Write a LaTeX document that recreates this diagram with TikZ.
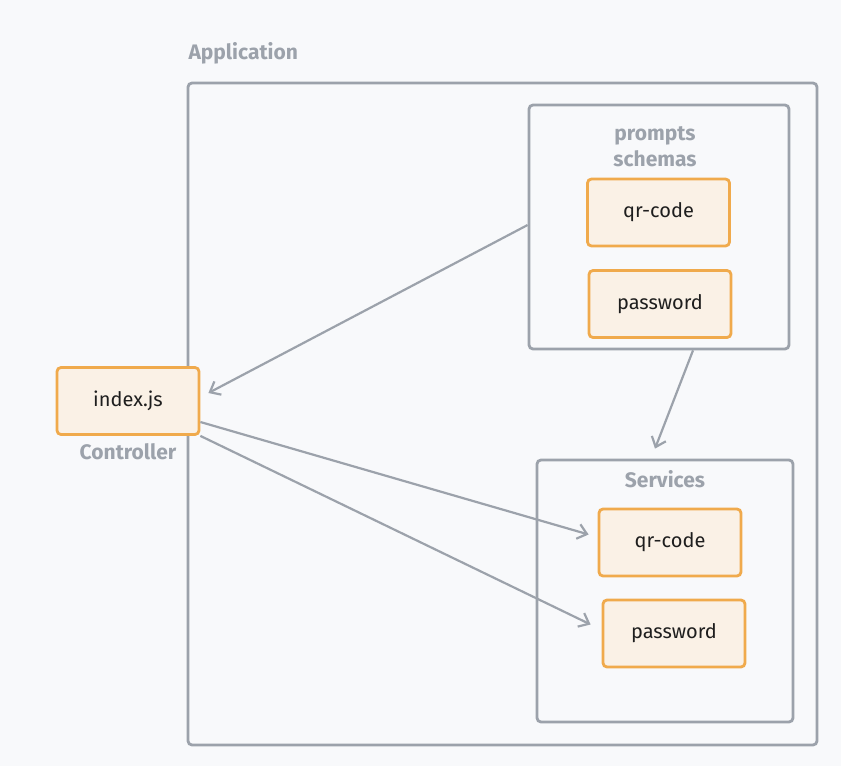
\documentclass[tikz,border=0pt]{standalone}
\usepackage{fontspec}
\setmainfont{Fira Sans}
\usepackage{tikz}
\usetikzlibrary{positioning,arrows.meta,calc}

\definecolor{bgcol}{HTML}{F8F9FB}
\definecolor{greyline}{HTML}{9CA2AB}
\definecolor{orangeline}{HTML}{F0AA4C}
\definecolor{orangefill}{HTML}{FAF1E6}
\definecolor{inkcol}{HTML}{1E1E1E}

\tikzset{
  groupbox/.style={draw=greyline, line width=2.8pt, rounded corners=4pt, inner sep=0pt},
  filebox/.style={draw=orangeline, fill=orangefill, line width=2.8pt, rounded corners=4pt,
    minimum width=142pt, minimum height=67pt, text=inkcol, font=\fontsize{20}{24}\selectfont},
  grouplabel/.style={text=greyline, font=\fontsize{21}{26}\selectfont\bfseries, align=center},
  link/.style={draw=greyline, line width=2.2pt, -{Straight Barb[length=9pt,width=15pt,line width=2.2pt]}}
}

\begin{document}
\begin{tikzpicture}[x=1pt, y=-1pt]
    \fill[bgcol] (0,0) rectangle (841,766);
    \useasboundingbox (0,0) rectangle (841,766);

    % outer application frame
    \node[groupbox, minimum width=629pt, minimum height=662pt] (app) at (502.5,414) {};
    \node[grouplabel, anchor=west] (applbl) at (185,53) {Application};

    % prompts / schemas
    \node[groupbox, minimum width=260pt, minimum height=244pt] (schemas) at (659,227) {};
    \node[grouplabel] (schemaslbl) at (655,147) {prompts\\schemas};
    \node[filebox] (qrtop) at (658.5,212.5) {qr-code};
    \node[filebox] (pwtop) at (660,304) {password};

    % services
    \node[groupbox, minimum width=256pt, minimum height=262pt] (services) at (665,591) {};
    \node[grouplabel] (serviceslbl) at (665,479) {Services};
    \node[filebox] (qrbot) at (670,542.5) {qr-code};
    \node[filebox] (pwbot) at (674,633.5) {password};

    % controller
    \node[filebox] (idx) at (128,401) {index.js};
    \node[grouplabel, below=4pt of idx] (ctrllbl) {Controller};

    \draw[link] ([yshift=2pt]schemas.west) -- ([xshift=8pt,yshift=8pt]idx.east);
    \draw[link] ([xshift=34pt]schemas.south) -- ([xshift=-10pt,yshift=10pt]services.north);
    \draw[link] ([yshift=-21pt]idx.east) -- ([xshift=-9pt,yshift=8pt]qrbot.west);
    \draw[link] (idx.south east) -- ([xshift=-11pt,yshift=9pt]pwbot.west);
\end{tikzpicture}
\end{document}
